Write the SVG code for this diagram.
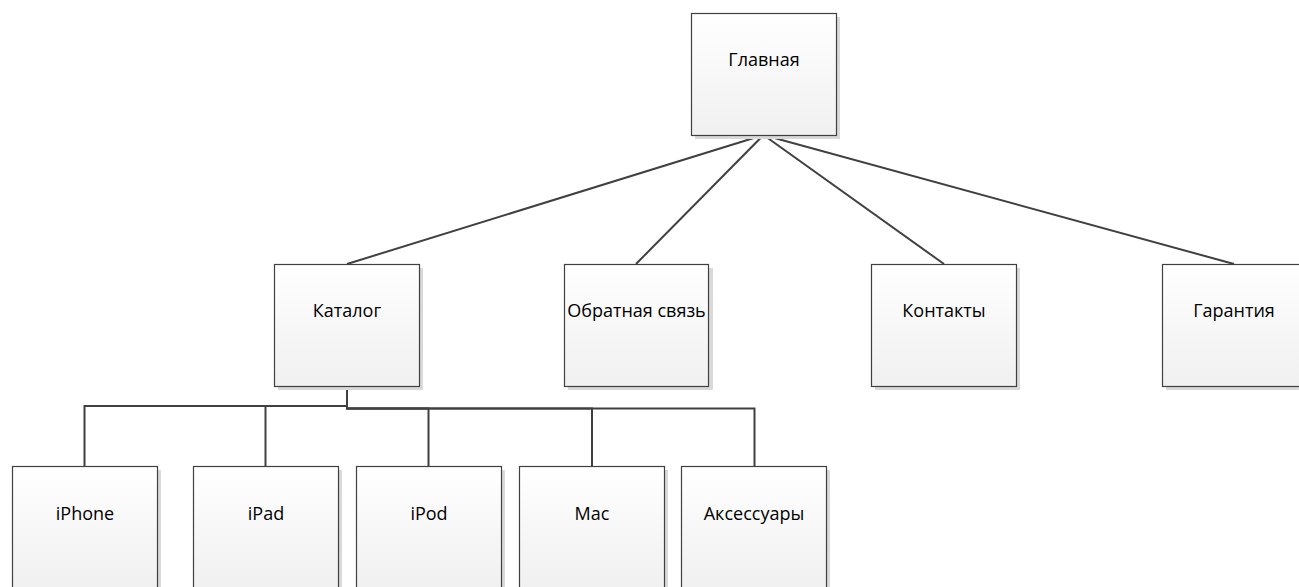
<svg xmlns="http://www.w3.org/2000/svg" width="1299" height="587" viewBox="0 0 1299 587">
  <defs>
    <linearGradient id="boxFill" x1="0" y1="0" x2="0" y2="1">
      <stop offset="0" stop-color="#ffffff"/>
      <stop offset="1" stop-color="#f0f0f0"/>
    </linearGradient>
  </defs>
  <style>
    .shadow { fill: #d9d9d9; }
    .box { fill: url(#boxFill); stroke: #404040; stroke-width: 1.2; }
    .label { font-family: "Open Sans", "Noto Sans", sans-serif; font-size: 18px; fill: #000000; text-anchor: middle; }
    .conn { fill: none; stroke: #404040; stroke-width: 2; }
  </style>
  <rect width="1299" height="587" fill="#ffffff"/>

  <g id="connectors">
    <line class="conn" x1="763.5" y1="135" x2="347" y2="264"/>
    <line class="conn" x1="763.5" y1="135" x2="636" y2="264"/>
    <line class="conn" x1="763.5" y1="135" x2="944" y2="264"/>
    <line class="conn" x1="763.5" y1="135" x2="1234" y2="264"/>
    <path class="conn" d="M347,386 V406 H84.5 V466"/>
    <path class="conn" d="M347,386 V406 H265.5 V466"/>
    <path class="conn" d="M347,386 V408.5 H428.5 V466"/>
    <path class="conn" d="M347,386 V408.5 H592 V466"/>
    <path class="conn" d="M347,386 V408.5 H754.5 V466"/>
  </g>

  <g id="node-glavnaya">
    <rect class="shadow" x="695" y="17" width="145" height="122"/>
    <rect class="box" x="691.5" y="13.5" width="145" height="122"/>
    <text class="label" x="764" y="66">Главная</text>
  </g>

  <g id="node-katalog">
    <rect class="shadow" x="278" y="268" width="145" height="122"/>
    <rect class="box" x="274.5" y="264.5" width="145" height="122"/>
    <text class="label" x="347" y="317">Каталог</text>
  </g>

  <g id="node-obratnaya">
    <rect class="shadow" x="568" y="268" width="145" height="122"/>
    <rect class="box" x="564.5" y="264.5" width="144" height="122"/>
    <text class="label" x="636.5" y="317">Обратная связь</text>
  </g>

  <g id="node-kontakty">
    <rect class="shadow" x="875" y="268" width="145" height="122"/>
    <rect class="box" x="871.5" y="264.5" width="145" height="122"/>
    <text class="label" x="944" y="317">Контакты</text>
  </g>

  <g id="node-garantiya">
    <rect class="shadow" x="1166" y="268" width="145" height="122"/>
    <rect class="box" x="1162.5" y="264.5" width="145" height="122"/>
    <text class="label" x="1234" y="317">Гарантия</text>
  </g>

  <g id="node-iphone">
    <rect class="shadow" x="16" y="470" width="145" height="122"/>
    <rect class="box" x="12.5" y="466.5" width="145" height="122"/>
    <text class="label" x="85" y="520">iPhone</text>
  </g>

  <g id="node-ipad">
    <rect class="shadow" x="197" y="470" width="145" height="122"/>
    <rect class="box" x="193.5" y="466.5" width="145" height="122"/>
    <text class="label" x="266" y="520">iPad</text>
  </g>

  <g id="node-ipod">
    <rect class="shadow" x="360" y="470" width="145" height="122"/>
    <rect class="box" x="356.5" y="466.5" width="145" height="122"/>
    <text class="label" x="429" y="520">iPod</text>
  </g>

  <g id="node-mac">
    <rect class="shadow" x="523" y="470" width="145" height="122"/>
    <rect class="box" x="519.5" y="466.5" width="145" height="122"/>
    <text class="label" x="592" y="520">Mac</text>
  </g>

  <g id="node-aksessuary">
    <rect class="shadow" x="685" y="470" width="145" height="122"/>
    <rect class="box" x="681.5" y="466.5" width="145" height="122"/>
    <text class="label" x="754" y="520">Аксессуары</text>
  </g>
</svg>
